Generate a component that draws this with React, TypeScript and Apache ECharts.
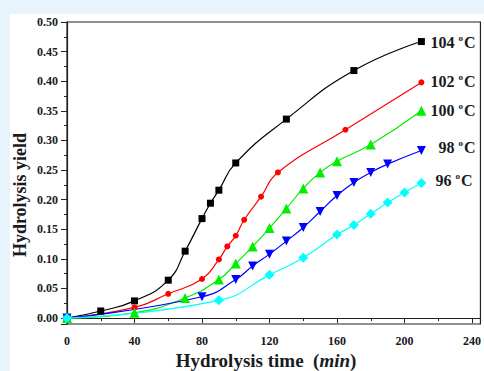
import React, { useEffect, useRef } from "react";
import * as echarts from "echarts";

// Hydrolysis time (min) and yield for each temperature
const T104 = [0, 20, 40, 60, 70, 80, 85, 90, 100, 130, 170, 210];
const Y104 = [0, 0.012, 0.029, 0.064, 0.113, 0.168, 0.194, 0.216, 0.262, 0.336, 0.418, 0.467];
const T102 = [0, 40, 60, 80, 90, 95, 100, 105, 115, 125, 165, 210];
const Y102 = [0, 0.018, 0.041, 0.066, 0.099, 0.121, 0.139, 0.166, 0.205, 0.246, 0.318, 0.398];
const T100 = [0, 40, 70, 90, 100, 110, 120, 130, 140, 150, 160, 180, 210];
const Y100 = [0, 0.009, 0.034, 0.065, 0.092, 0.121, 0.152, 0.185, 0.219, 0.246, 0.265, 0.293, 0.35];
const T98 = [0, 80, 100, 110, 120, 130, 140, 150, 160, 170, 180, 190, 210];
const Y98 = [0, 0.036, 0.065, 0.088, 0.108, 0.13, 0.153, 0.18, 0.207, 0.229, 0.246, 0.26, 0.283];
const T96 = [0, 90, 120, 140, 160, 170, 180, 190, 200, 210];
const Y96 = [0, 0.03, 0.073, 0.102, 0.141, 0.157, 0.176, 0.195, 0.212, 0.228];

const LABELS = ["104", "102", "100", "98", "96"];
const X_TITLE = "Hydrolysis time";
const X_UNIT = "min";
const Y_TITLE = "Hydrolysis yield";

const serif = "'Liberation Serif', 'Times New Roman', serif";
const ink = "#1a1a22";

export default function App() {
  const ref = useRef<HTMLDivElement>(null);
  useEffect(() => {
    const chart = echarts.init(ref.current!, null, { renderer: "svg" });
    const mk = (
      label: string,
      ts: number[],
      ys: number[],
      color: string,
      symbol: string,
      size: number,
      rotate: number,
      dist: number,
      offY: number
    ) => ({
      type: "line",
      name: label,
      data: ts.map((t, i) => [t, ys[i]]),
      smooth: 0.5,
      symbol,
      symbolSize: size,
      symbolRotate: rotate,
      showAllSymbol: true,
      lineStyle: { color, width: 1.2 },
      itemStyle: { color },
      z: 3,
      endLabel: {
        show: true,
        distance: dist,
        offset: [0, offY],
        formatter: `{n|${label}}{o|o}{n|C}`,
        rich: {
          n: { fontFamily: serif, fontWeight: "bold", fontSize: 16, color: ink, lineHeight: 18 },
          o: {
            fontFamily: serif,
            fontWeight: "bold",
            fontSize: 9,
            color: ink,
            verticalAlign: "top",
            padding: [0, 1, 0, 4],
          },
        },
      },
    });
    chart.setOption({
      animation: false,
      backgroundColor: "#ffffff",
      grid: {
        left: 57,
        right: 1.3,
        top: 8,
        bottom: 47,
        show: true,
        borderColor: "#222",
        borderWidth: 1.2,
        backgroundColor: "transparent",
      },
      xAxis: {
        type: "value",
        min: 0,
        max: 245,
        interval: 40,
        axisLine: { show: true, lineStyle: { color: "#222", width: 1.2 } },
        axisTick: { show: true, inside: false, length: 5, lineStyle: { color: "#222" } },
        minorTick: { show: true, splitNumber: 2, length: 3, lineStyle: { color: "#222" } },
        splitLine: { show: false },
        axisLabel: {
          margin: 11,
          fontFamily: serif,
          fontWeight: "bold",
          fontSize: 12,
          color: ink,
          formatter: (v: number) => (v > 240 ? "" : String(v)),
        },
      },
      yAxis: {
        type: "value",
        min: -0.01,
        max: 0.5,
        splitNumber: 10,
        axisLine: { show: true, lineStyle: { color: "#222", width: 1.2 } },
        axisTick: { show: true, inside: false, length: 6, lineStyle: { color: "#222" } },
        minorTick: { show: true, splitNumber: 2, length: 3, lineStyle: { color: "#222" } },
        splitLine: { show: false },
        axisLabel: {
          margin: 9,
          fontFamily: serif,
          fontWeight: "bold",
          fontSize: 12,
          color: ink,
          formatter: (v: number) => (v < -0.001 ? "" : v.toFixed(2)),
        },
      },
      graphic: [
        {
          type: "text",
          x: 10,
          y: 181,
          rotation: Math.PI / 2,
          style: {
            text: Y_TITLE,
            font: `bold 18px ${serif}`,
            fill: ink,
            align: "center",
            verticalAlign: "middle",
          },
        },
        {
          type: "text",
          x: 256,
          y: 346,
          style: {
            text: `{b|${X_TITLE}  (}{i|${X_UNIT}}{b|)}`,
            align: "center",
            verticalAlign: "middle",
            rich: {
              b: { fontFamily: serif, fontWeight: "bold", fontSize: 19, fill: ink, color: ink },
              i: { fontFamily: serif, fontWeight: "bold", fontStyle: "italic", fontSize: 19, fill: ink, color: ink },
            },
          },
        },
      ],
      series: [
        mk(LABELS[0], T104, Y104, "#000000", "rect", 7, 0, 9, 1),
        mk(LABELS[1], T102, Y102, "#ff0000", "circle", 6, 0, 9, -1),
        mk(LABELS[2], T100, Y100, "#00ee00", "triangle", 10, 0, 9, 0),
        mk(LABELS[3], T98, Y98, "#0000ff", "triangle", 9, 180, 17, -3),
        mk(LABELS[4], T96, Y96, "#00ffff", "diamond", 10, 0, 14, -3),
      ],
    });
    return () => chart.dispose();
  }, []);
  return (
    <div
      style={{
        position: "fixed",
        left: 0,
        top: 0,
        width: 484,
        height: 371,
        background: "#e8f4fc",
      }}
    >
      <div
        ref={ref}
        style={{ position: "absolute", left: 10, top: 14, width: 474, height: 357, background: "#fff" }}
      />
    </div>
  );
}
